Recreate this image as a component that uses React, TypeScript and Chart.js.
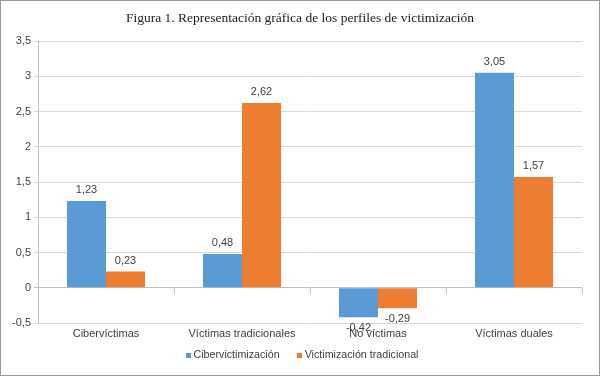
import React, { useEffect, useRef } from "react";
import { Chart, registerables } from "chart.js";

Chart.register(...registerables);

const categories = ["Cibervíctimas", "Víctimas tradicionales", "No víctimas", "Víctimas duales"];
const seriesNames = ["Cibervictimización", "Victimización tradicional"];
const ciberValues = [1.23, 0.48, -0.42, 3.05];
const tradicionalValues = [0.23, 2.62, -0.29, 1.57];
const titleText = "Figura 1. Representación gráfica de los perfiles de victimización";

const fmt = (v: number) => String(v).replace(".", ",");

const framePlugin = {
  id: "frame",
  beforeDraw(chart: any) {
    const { ctx, width, height } = chart;
    ctx.save();
    ctx.fillStyle = "#ffffff";
    ctx.fillRect(0, 0, width, height);
    ctx.restore();
  },
  afterDraw(chart: any) {
    const { ctx, width, height } = chart;
    ctx.save();
    ctx.strokeStyle = "#9a9a9a";
    ctx.lineWidth = 1;
    ctx.strokeRect(0.5, 0.5, width - 1, height - 1);
    ctx.fillStyle = "#1a1a1a";
    ctx.font = "13.5px 'Liberation Serif'";
    ctx.textAlign = "center";
    ctx.textBaseline = "middle";
    ctx.fillText(titleText, width / 2, 18);

    // legend
    ctx.font = "10.7px 'Liberation Sans'";
    ctx.textBaseline = "middle";
    ctx.textAlign = "left";
    const box = 5;
    const gapBox = 3;
    const gapItem = 17;
    const dsets = chart.data.datasets;
    const widths = dsets.map((d: any) => box + gapBox + ctx.measureText(d.label).width);
    const total = widths.reduce((a: number, b: number) => a + b, 0) + gapItem * (dsets.length - 1);
    let lx = 302 - total / 2;
    const ly = 355;
    dsets.forEach((d: any, i: number) => {
      ctx.fillStyle = d.backgroundColor;
      ctx.fillRect(Math.round(lx), Math.round(ly - box / 2), box, box);
      ctx.fillStyle = "#404040";
      ctx.fillText(d.label, lx + box + gapBox, ly);
      lx += widths[i] + gapItem;
    });
    ctx.restore();
  },
};

const zeroTicksPlugin = {
  id: "zeroTicks",
  afterDatasetsDraw(chart: any) {
    const { ctx } = chart;
    const x = chart.scales.x;
    const y = chart.scales.y;
    const y0 = Math.round(y.getPixelForValue(0)) + 0.5;
    ctx.save();
    ctx.strokeStyle = "#bfbfbf";
    ctx.lineWidth = 1;
    for (let i = 0; i <= categories.length; i++) {
      const px = Math.round(x.getPixelForValue(i - 0.5)) + 0.5;
      ctx.beginPath();
      ctx.moveTo(px, y0);
      ctx.lineTo(px, y0 + 5);
      ctx.stroke();
    }
    ctx.restore();
  },
};

const dataLabelPlugin = {
  id: "dataLabels",
  afterDatasetsDraw(chart: any) {
    const { ctx } = chart;
    ctx.save();
    ctx.font = "11px 'Liberation Sans'";
    ctx.fillStyle = "#404040";
    ctx.textAlign = "center";
    ctx.textBaseline = "middle";
    chart.data.datasets.forEach((ds: any, di: number) => {
      const meta = chart.getDatasetMeta(di);
      meta.data.forEach((bar: any, i: number) => {
        const v = ds.data[i];
        const yy = v >= 0 ? bar.y - 11 : bar.y + 11;
        ctx.fillText(fmt(v), bar.x, yy);
      });
    });
    ctx.restore();
  },
};

export default function App() {
  const ref = useRef<HTMLCanvasElement | null>(null);
  useEffect(() => {
    if (!ref.current) return;
    const chart = new Chart(ref.current, {
      type: "bar",
      data: {
        labels: categories,
        datasets: [
          {
            label: seriesNames[0],
            data: ciberValues,
            backgroundColor: "#5B9BD5",
            borderWidth: 0,
          },
          {
            label: seriesNames[1],
            data: tradicionalValues,
            backgroundColor: "#ED7D31",
            borderWidth: 0,
          },
        ],
      },
      options: {
        animation: false,
        responsive: false,
        maintainAspectRatio: false,
        layout: { padding: { top: 41, right: 18, left: 0, bottom: 31 } },
        datasets: { bar: { categoryPercentage: 0.574, barPercentage: 1 } },
        plugins: {
          title: { display: false },
          tooltip: { enabled: false },
          legend: { display: false },
        },
        scales: {
          x: {
            grid: { display: false, drawTicks: false },
            border: { display: false },
            ticks: {
              color: "#404040",
              font: { family: "'Liberation Sans'", size: 11 },
              padding: 4,
              maxRotation: 0,
            },
            afterFit: (s: any) => {
              s.height = 22;
            },
          },
          y: {
            min: -0.5,
            max: 3.5,
            ticks: {
              stepSize: 0.5,
              color: "#404040",
              font: { family: "'Liberation Sans'", size: 11 },
              padding: 3,
              callback: (v: any) => fmt(Number(v)),
            },
            grid: {
              color: (c: any) => (c.tick && c.tick.value === 0 ? "#bfbfbf" : "#d9d9d9"),
              tickLength: 4,
            },
            border: { display: true, color: "#bfbfbf" },
            afterFit: (s: any) => {
              s.width = 38;
            },
          },
        },
      },
      plugins: [framePlugin, zeroTicksPlugin, dataLabelPlugin],
    });
    return () => chart.destroy();
  }, []);
  return (
    <div style={{ position: "fixed", left: 0, top: 0, width: 600, height: 376 }}>
      <canvas ref={ref} width={600} height={376} style={{ width: 600, height: 376, display: "block" }} />
    </div>
  );
}
